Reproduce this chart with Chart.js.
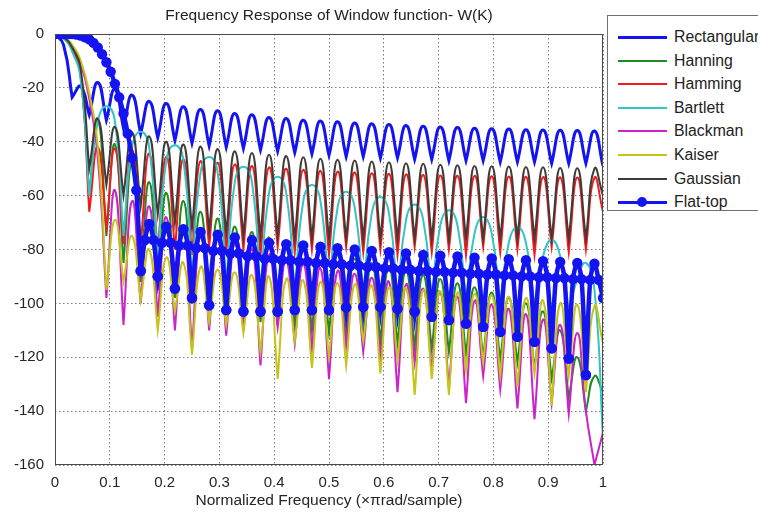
<!DOCTYPE html>
<html>
<head>
<meta charset="utf-8">
<title>Frequency Response of Window function</title>
<script src="https://cdn.jsdelivr.net/npm/chart.js@4.4.1/dist/chart.umd.min.js"></script>
<style>
  html, body { margin: 0; padding: 0; background: #fff; overflow: hidden; }
  #wrap { position: relative; width: 758px; height: 512px; overflow: hidden;
          font-family: "Liberation Sans", Arial, sans-serif; color: #222; }
  #chart { position: absolute; left: 0; top: 0; width: 758px; height: 512px; }
  #title { position: absolute; left: 55px; width: 548px; top: 6px; text-align: center;
           font-size: 15.5px; line-height: 18px; white-space: nowrap; }
  #legend { position: absolute; left: 607px; top: 15px; width: 170px; height: 194px;
            border: 1px solid #707070; background: #fff; }
  .item { position: absolute; left: 0; width: 170px; height: 18px; }
  .item .swatch { position: absolute; left: 10px; width: 49px; }
  .item .dot { position: absolute; width: 10px; height: 10px; border-radius: 50%; left: 29px; top: 4px; }
  .item .name { position: absolute; left: 66px; top: 0; font-size: 15.8px; line-height: 18px; white-space: nowrap; }
</style>
</head>
<body>
<div id="wrap">
  <canvas id="chart" width="758" height="512"></canvas>
  <div id="title">Frequency Response of Window function- W(K)</div>
  <div id="legend"></div>
</div>
<script>
// ========== window spectra, values (dB) ==========

// ── shared frequency grid (x π rad/sample), half-lobe steps ──
var freq = [0, 0.0156, 0.0313, 0.0469, 0.0625, 0.0781, 0.0938, 0.1094, 0.125, 0.1406,
  0.1563, 0.1719, 0.1875, 0.2031, 0.2188, 0.2344, 0.25, 0.2656, 0.2813, 0.2969,
  0.3125, 0.3281, 0.3438, 0.3594, 0.375, 0.3906, 0.4063, 0.4219, 0.4375, 0.4531,
  0.4688, 0.4844, 0.5, 0.5156, 0.5313, 0.5469, 0.5625, 0.5781, 0.5938, 0.6094,
  0.625, 0.6406, 0.6563, 0.6719, 0.6875, 0.7031, 0.7188, 0.7344, 0.75, 0.7656,
  0.7813, 0.7969, 0.8125, 0.8281, 0.8438, 0.8594, 0.875, 0.8906, 0.9063, 0.9219,
  0.9375, 0.9531, 0.9688, 0.9844, 1];

var rectangular = [0, -4, -23.5, -19.5, -30, -18, -32, -20.5, -35, -22.7,
  -37, -25, -38.5, -25.8, -39.5, -27, -40.5, -28, -41.5, -28.5,
  -42, -29.5, -42.5, -30, -43, -31, -43.5, -31.4, -44, -32,
  -44.5, -32.3, -45, -32.6, -45.5, -33, -45.5, -33.3, -46, -33.6,
  -46, -34, -46.5, -34.2, -46.5, -34.5, -47, -34.7, -47, -35,
  -47, -35.2, -47.5, -35.3, -47.5, -35.5, -47.5, -35.6, -48, -35.7,
  -48, -35.8, -48, -36, -49];

var hanning = [0, -1.5, -6, -16, -60, -31.5, -75, -41, -85, -48,
  -92, -55, -95, -59, -98, -62, -100, -66, -102, -68.5,
  -104, -71.5, -105, -73.5, -107, -75.5, -108, -77, -109, -79,
  -110, -80.5, -111, -82, -112, -83.5, -113, -85, -114, -86.5,
  -115, -88, -116, -89.5, -117, -91, -118, -92.5, -119, -94,
  -120, -96, -121, -98, -122, -100, -124, -103, -128, -110,
  -135, -120, -140, -127, -133];

var hamming = [0, -1.3, -5.5, -15, -66, -42, -72, -42.5, -78, -43,
  -79, -44.4, -81, -45.6, -80, -46.5, -82, -47.2, -79, -47.8,
  -81, -48.4, -80, -49, -82, -49.5, -79, -50, -81, -50.4,
  -80, -50.8, -82, -51.1, -79, -51.4, -81, -51.7, -80, -51.9,
  -82, -52.1, -79, -52.3, -81, -52.5, -80, -52.6, -82, -52.7,
  -79, -52.8, -81, -52.9, -80, -53, -82, -53.1, -79, -53.2,
  -81, -53.3, -80, -53.4, -66];

var bartlett = [0, -1.5, -6.5, -17, -60,
  -32.5, -26.8, -32.5, -75,
  -42, -36.3, -42, -85,
  -47, -41.3, -47, -90,
  -51.5, -45.7, -51.5, -93,
  -55, -49.3, -55, -95,
  -59, -53, -59, -96,
  -62, -56.1, -62, -97,
  -64.5, -58.6, -64.5, -97,
  -66.5, -60.5, -66.5, -98,
  -69, -63.3, -69, -98,
  -71, -65.4, -71, -99,
  -74, -67.9, -74, -100,
  -77.5, -71.6, -77.5, -101,
  -82.5, -76.5, -82.5, -103,
  -91, -85, -95, -150];

var blackman = [0, -1, -4.5, -11, -24, -46, -98, -58, -108, -62,
  -100, -64, -105, -68, -110, -71, -117, -74, -110, -76,
  -112, -78, -108, -80, -123, -82, -109, -84, -115, -85.5,
  -117, -87, -128, -88, -116, -89, -118, -90.5, -120, -92,
  -133, -93, -122, -94.5, -125, -96, -131, -97.5, -137, -99,
  -127, -100.5, -132, -102, -139, -104, -143, -106, -137, -108,
  -141, -111, -140, -160, -148];

var kaiser = [0, -1, -4, -10, -22, -42, -95, -69, -92, -75,
  -99, -80, -110, -83, -103, -85, -119, -86.5, -107, -87.5,
  -108, -88.5, -111, -89.5, -118, -90, -128, -91, -114, -91.5,
  -124, -92, -120, -92.5, -123, -93, -114, -93.5, -126, -94,
  -121, -94.5, -134, -95, -128, -95.5, -134, -96, -125, -96.5,
  -122, -97, -127, -97.5, -131, -98, -126, -99, -138, -100,
  -127, -100.5, -133, -101, -115];

var gaussian = [0, -1.2, -5, -13, -50, -31.5, -56, -34.5, -60, -36.5,
  -64, -38, -67, -40, -70, -41, -72, -41.8, -73, -42.7,
  -74, -43.5, -75, -44.2, -75, -44.8, -75, -45.3, -76, -45.8,
  -76, -46.3, -76, -46.7, -76, -47, -76, -47.3, -76, -47.6,
  -76, -48, -76, -48.2, -76, -48.5, -76, -48.7, -76, -49,
  -76, -49.1, -76, -49.2, -76, -49.4, -76, -49.5, -76, -49.7,
  -76, -49.8, -76, -50, -60];

// ── flat-top is plotted with markers on a finer grid ──
var ftFreq = [0, 0.0078, 0.0156, 0.0234, 0.0313, 0.0391, 0.0469, 0.0547, 0.0625, 0.0703,
  0.0781, 0.0859, 0.0938, 0.1016, 0.1094, 0.1172, 0.125, 0.1328, 0.1406, 0.1484,
  0.1563, 0.1641, 0.1719, 0.1797, 0.1875, 0.1953, 0.2031, 0.2109, 0.2188, 0.2266,
  0.2344, 0.2422, 0.25, 0.2578, 0.2656, 0.2734, 0.2813, 0.2891, 0.2969, 0.3047,
  0.3125, 0.3203, 0.3281, 0.3359, 0.3438, 0.3516, 0.3594, 0.3672, 0.375, 0.3828,
  0.3906, 0.3984, 0.4063, 0.4141, 0.4219, 0.4297, 0.4375, 0.4453, 0.4531, 0.4609,
  0.4688, 0.4766, 0.4844, 0.4922, 0.5, 0.5078, 0.5156, 0.5234, 0.5313, 0.5391,
  0.5469, 0.5547, 0.5625, 0.5703, 0.5781, 0.5859, 0.5938, 0.6016, 0.6094, 0.6172,
  0.625, 0.6328, 0.6406, 0.6484, 0.6563, 0.6641, 0.6719, 0.6797, 0.6875, 0.6953,
  0.7031, 0.7109, 0.7188, 0.7266, 0.7344, 0.7422, 0.75, 0.7578, 0.7656, 0.7734,
  0.7813, 0.7891, 0.7969, 0.8047, 0.8125, 0.8203, 0.8281, 0.8359, 0.8438, 0.8516,
  0.8594, 0.8672, 0.875, 0.8828, 0.8906, 0.8984, 0.9063, 0.9141, 0.9219, 0.9297,
  0.9375, 0.9453, 0.9531, 0.9609, 0.9688, 0.9766, 0.9844, 0.9922, 1];

var flatTop = [0, 0, 0, 0, 0, -0.2, -0.6, -1.2, -2, -3.3,
  -5, -7.5, -10.5, -14, -18.5, -23.5, -29.5, -37, -46, -58,
  -88, -76.5, -70.5, -76.5,
  -90, -77.5, -71.5, -77.5,
  -94.5, -78.5, -72.5, -78.5,
  -98, -79.5, -73.5, -79.5,
  -100.7, -80.5, -74.5, -80.5,
  -102.5, -81.5, -75.5, -81.5,
  -103, -82.5, -76.5, -82.5,
  -103, -83.5, -77.5, -83.5,
  -103, -84, -78, -84,
  -102.5, -84.5, -78.5, -84.5,
  -102.5, -85, -79, -85,
  -102.5, -85.5, -79.5, -85.5,
  -101.5, -86, -80, -86,
  -101.3, -86.5, -80.5, -86.5,
  -101.3, -87, -81, -87,
  -102, -87.5, -81.5, -87.5,
  -103, -88, -82, -88,
  -105, -88.3, -82.3, -88.3,
  -106.2, -88.6, -82.6, -88.6,
  -107.5, -89, -83, -89,
  -108.7, -89.3, -83.3, -89.3,
  -110.6, -89.6, -83.6, -89.6,
  -112.4, -90, -84, -90,
  -114.3, -90.3, -84.3, -90.3,
  -116.7, -90.6, -84.6, -90.6,
  -120.5, -91, -85, -91,
  -126.6, -91.3, -85.3, -91.3,
  -98];

// ── axis ticks ──
var xTicks = [0, 0.1, 0.2, 0.3, 0.4, 0.5, 0.6, 0.7, 0.8, 0.9, 1];
var yTicks = [0, -20, -40, -60, -80, -100, -120, -140, -160];

var series = [
  { name: 'Rectangular', color: '#1414f0', width: 3, x: freq, y: rectangular },
  { name: 'Hanning',     color: '#1e8c1e', width: 2, x: freq, y: hanning },
  { name: 'Hamming',     color: '#ee1c1c', width: 2, x: freq, y: hamming },
  { name: 'Bartlett',    color: '#33c4c4', width: 2, x: freq, y: bartlett },
  { name: 'Blackman',    color: '#cc22cc', width: 2, x: freq, y: blackman },
  { name: 'Kaiser',      color: '#c4c41a', width: 2, x: freq, y: kaiser },
  { name: 'Gaussian',    color: '#403a38', width: 2, x: freq, y: gaussian },
  { name: 'Flat-top',    color: '#1414f0', width: 3, x: ftFreq, y: flatTop, marker: true }
];

var FONT = '"Liberation Sans", Arial, sans-serif';
var GRID = 'rgba(80,80,80,0.75)';

// ── points; a notch (local minimum) is repeated so the curve gets a sharp cusp there ──
function toPoints(xs, ys) {
  var pts = [];
  for (var i = 0; i < ys.length; i++) {
    pts.push({ x: xs[i], y: ys[i] });
    if (i > 0 && i < ys.length - 1 && ys[i] < ys[i - 1] && ys[i] < ys[i + 1]) {
      pts.push({ x: xs[i], y: ys[i] });
    }
  }
  return pts;
}

// ── axes box like MATLAB "box on" ──
var boxPlugin = {
  id: 'axesBox',
  afterDatasetsDraw: function(chart) {
    var a = chart.chartArea, c = chart.ctx;
    c.save();
    c.strokeStyle = '#4a4a4a';
    c.lineWidth = 1;
    c.strokeRect(Math.round(a.left) + 0.5, Math.round(a.top) + 0.5,
      Math.round(a.right - a.left) - 1, Math.round(a.bottom - a.top) - 1);
    c.restore();
  }
};

var datasets = series.map(function(s, i) {
  return {
    label: s.name,
    data: toPoints(s.x, s.y),
    borderColor: s.color,
    backgroundColor: s.color,
    borderWidth: s.marker ? 4.5 : s.width,
    pointRadius: s.marker ? 5.2 : 0,
    pointBorderWidth: 0,
    pointStyle: 'circle',
    tension: s.marker ? 0.3 : 0.5,
    fill: false,
    clip: 0,
    order: series.length - i   // later series drawn on top, like MATLAB
  };
});

var ctx = document.getElementById('chart').getContext('2d');
new Chart(ctx, {
  type: 'line',
  data: { datasets: datasets },
  options: {
    responsive: false,
    animation: false,
    devicePixelRatio: 1,
    layout: { padding: { left: 0, right: 155, top: 34, bottom: 0 } },
    plugins: {
      legend: { display: false },
      title: { display: false },
      tooltip: { enabled: false }
    },
    scales: {
      x: {
        type: 'linear', min: 0, max: 1,
        afterFit: function(s) { s.height = 47; },
        afterBuildTicks: function(s) { s.ticks = xTicks.map(function(v) { return { value: v }; }); },
        grid: { color: GRID, lineWidth: 1, drawTicks: false },
        border: { display: false, dash: [1.5, 2.5] },
        ticks: {
          padding: 9, color: '#262626', autoSkip: false, maxRotation: 0,
          font: { family: FONT, size: 15 },
          callback: function(v) { return String(v); }
        },
        title: {
          display: true, text: 'Normalized Frequency (×πrad/sample)', color: '#262626',
          font: { family: FONT, size: 15.5 }, padding: { top: 0, bottom: 2 }
        }
      },
      y: {
        type: 'linear', min: -160, max: 0,
        afterFit: function(s) { s.width = 55; },
        afterBuildTicks: function(s) { s.ticks = yTicks.map(function(v) { return { value: v }; }); },
        grid: { color: GRID, lineWidth: 1, drawTicks: false },
        border: { display: false, dash: [1.5, 2.5] },
        ticks: {
          padding: 11, color: '#262626',
          font: { family: FONT, size: 15 },
          callback: function(v) { return String(v); }
        }
      }
    }
  },
  plugins: [boxPlugin]
});

// ── legend (boxed, right of the axes) ──
var legend = document.getElementById('legend');
series.forEach(function(s, i) {
  var row = document.createElement('div');
  var h = s.width;
  row.className = 'item';
  row.style.top = (12 + 23.6 * i) + 'px';
  row.innerHTML =
    '<span class="swatch" style="top:' + (9 - h / 2) + 'px;height:' + h + 'px;background:' + s.color + '"></span>' +
    (s.marker ? '<span class="dot" style="background:' + s.color + '"></span>' : '') +
    '<span class="name">' + s.name + '</span>';
  legend.appendChild(row);
});
</script>
</body>
</html>
